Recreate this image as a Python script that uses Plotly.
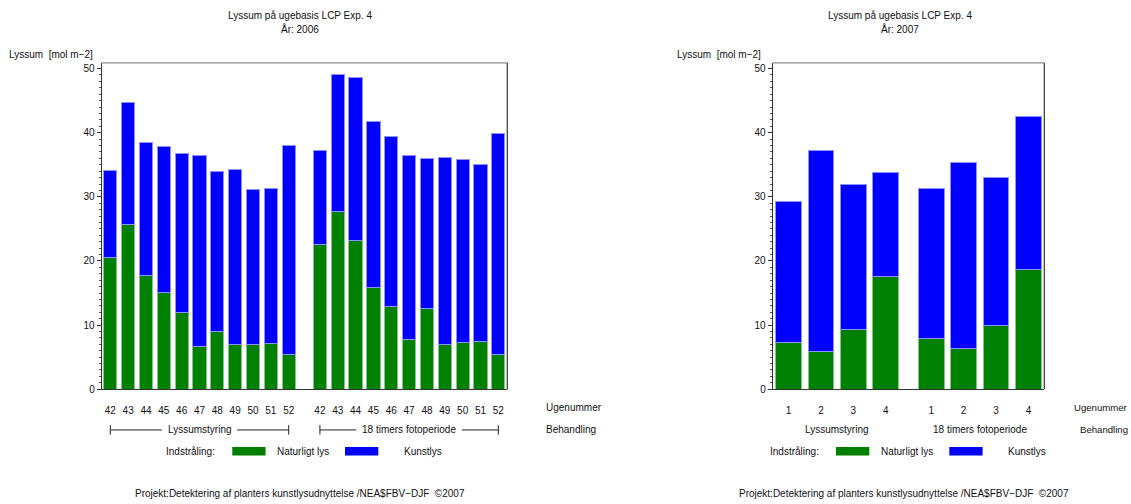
import plotly.graph_objects as go

# ---- data -------------------------------------------------------------
weeks_2006 = ["42", "43", "44", "45", "46", "47", "48", "49", "50", "51", "52"]
natur_2006_lys = [20.6, 25.7, 17.7, 15.1, 12.0, 6.7, 9.0, 7.0, 6.9, 7.2, 5.4]
kunst_2006_lys = [13.5, 19.0, 20.7, 22.8, 24.7, 29.7, 24.9, 27.2, 24.2, 24.1, 32.6]
natur_2006_foto = [22.6, 27.7, 23.2, 15.9, 12.9, 7.8, 12.6, 6.9, 7.3, 7.4, 5.4]
kunst_2006_foto = [14.7, 21.4, 25.4, 25.9, 26.5, 28.7, 23.4, 29.3, 28.5, 27.6, 34.4]

weeks_2007 = ["1", "2", "3", "4"]
natur_2007_lys = [7.3, 5.9, 9.3, 17.6]
kunst_2007_lys = [22.0, 31.4, 22.7, 16.2]
natur_2007_foto = [7.9, 6.4, 10.0, 18.7]
kunst_2007_foto = [23.4, 28.9, 23.0, 23.9]

treatments = ["Lyssumstyring", "18 timers fotoperiode"]
years = ["2006", "2007"]

# ---- canvas helpers ----------------------------------------------------
W, H = 1131, 504
V_SCALE = 0.9863          # vertical layout scale of the page
FONT = "Liberation Sans, Arial, sans-serif"
GREEN, BLUE = "#008000", "#0000ff"
GREEN_EDGE, BLUE_EDGE = "#8cc08c", "#9090ff"


def px(x):
    return x / W


def py(y):
    return max(0.0, 1 - (y / V_SCALE) / H)


# positions: two treatment groups separated by a gap
gap06 = 1.75
x06_a = list(range(len(weeks_2006)))
x06_b = [len(weeks_2006) - 1 + gap06 + i for i in range(len(weeks_2006))]
gap07 = 1.4
x07_a = list(range(len(weeks_2007)))
x07_b = [len(weeks_2007) - 1 + gap07 + i for i in range(len(weeks_2007))]

fig = go.Figure()


def add_stack(xs, nat, kun, xa, ya, width):
    fig.add_trace(go.Bar(x=xs, y=nat, width=width, marker=dict(color=GREEN, line=dict(color=GREEN_EDGE, width=1)),
                         xaxis=xa, yaxis=ya, showlegend=False, hoverinfo="y"))
    fig.add_trace(go.Bar(x=xs, y=kun, width=width, marker=dict(color=BLUE, line=dict(color=BLUE_EDGE, width=1)),
                         xaxis=xa, yaxis=ya, showlegend=False, hoverinfo="y"))


add_stack(x06_a, natur_2006_lys, kunst_2006_lys, "x", "y", 0.74)
add_stack(x06_b, natur_2006_foto, kunst_2006_foto, "x", "y", 0.74)
add_stack(x07_a, natur_2007_lys, kunst_2007_lys, "x2", "y2", 0.8)
add_stack(x07_b, natur_2007_foto, kunst_2007_foto, "x2", "y2", 0.8)

ydom = [py(387.7), py(62.7)]
yaxis_common = dict(
    range=[0, 50.88], domain=ydom, tickvals=[0, 10, 20, 30, 40, 50],
    ticks="outside", ticklen=4, tickcolor="#333", showline=True, linecolor="#333",
    linewidth=1, showgrid=False, zeroline=False,
    tickfont=dict(family=FONT, size=10, color="#111"),
    minor=dict(dtick=1, ticks="outside", ticklen=2, tickcolor="#555"),
)
xaxis_common = dict(
    ticks="", showline=True, linecolor="#333", linewidth=1, showgrid=False,
    zeroline=False, tickfont=dict(family=FONT, size=10, color="#111"),
    ticklabelstandoff=12,
)

fig.update_layout(
    width=W, height=H, margin=dict(l=0, r=0, t=0, b=0),
    paper_bgcolor="white", plot_bgcolor="white", barmode="stack", bargap=0,
    font=dict(family=FONT, size=10, color="#111"),
    xaxis=dict(domain=[px(101.7), px(507.3)], range=[-0.482, 22.254],
               tickvals=x06_a + x06_b, ticktext=weeks_2006 + weeks_2006, anchor="y", **xaxis_common),
    yaxis=dict(anchor="x", **yaxis_common),
    xaxis2=dict(domain=[px(772.7), px(1044.3)], range=[-0.49, 7.89],
                tickvals=x07_a + x07_b, ticktext=weeks_2007 + weeks_2007, anchor="y2", **xaxis_common),
    yaxis2=dict(anchor="x2", **yaxis_common),
)

shapes = []
annotations = []


def text(x, y, s, xanchor="center", xref="paper", size=10):
    annotations.append(dict(x=x, y=py(y), xref=xref, yref="paper", text=s, showarrow=False,
                            xanchor=xanchor, yanchor="middle",
                            font=dict(family=FONT, size=size, color="#111")))


# frame: grey top edge, dark right edge
for xa, ya in (("x", "y"), ("x2", "y2")):
    shapes.append(dict(type="line", xref=f"{xa} domain", yref=f"{ya} domain", x0=0, x1=1, y0=1, y1=1,
                       line=dict(color="#8a8a8a", width=1.2)))
    shapes.append(dict(type="line", xref=f"{xa} domain", yref=f"{ya} domain", x0=1, x1=1, y0=0, y1=1,
                       line=dict(color="#333", width=1.2)))

# titles and axis captions
for cx, yr in ((300, years[0]), (900, years[1])):
    text(px(cx), 15, "Lyssum på ugebasis LCP Exp. 4")
    text(px(cx), 29, f"År: {yr}")
text(px(95), 54.5, "Lyssum  [mol m−2]", xanchor="right")
text(px(763), 54.5, "Lyssum  [mol m−2]", xanchor="right")
text(px(544), 405.7, "Ugenummer", xanchor="left")
text(px(544), 428.3, "Behandling", xanchor="left")
# right-hand captions kept inside the canvas edge
text(px(1130), 405.7, "Ugenummer", xanchor="right", size=9.6)
text(px(1130), 428.3, "Behandling", xanchor="right", size=9.6)

# treatment brackets (2006)
for grp, name, half_gap in ((x06_a, treatments[0], 2.11), (x06_b, treatments[1], 2.96)):
    x0, x1 = grp[0], grp[-1]
    mid = (x0 + x1) / 2
    for a, b in ((x0, mid - half_gap), (mid + half_gap, x1)):
        shapes.append(dict(type="line", xref="x", yref="paper", x0=a, x1=b, y0=py(428.3), y1=py(428.3),
                           line=dict(color="#222", width=1)))
    for xe in (x0, x1):
        shapes.append(dict(type="line", xref="x", yref="paper", x0=xe, x1=xe, y0=py(423.5), y1=py(433),
                           line=dict(color="#222", width=1)))
    text(mid, 428.3, name, xref="x")

# treatment labels (2007)
for grp, name in ((x07_a, treatments[0]), (x07_b, treatments[1])):
    text((grp[0] + grp[-1]) / 2, 428.3, name, xref="x2")

# legend rows
for ind, g0, nat, b0, kun in ((164, 232.3, 275, 345, 402.3), (768.3, 836, 879, 949.3, 1006)):
    text(px(ind), 449.5, "Indstråling:", xanchor="left")
    shapes.append(dict(type="rect", xref="paper", yref="paper", x0=px(g0), x1=px(g0 + 33.3),
                       y0=py(453.7), y1=py(445.3), fillcolor=GREEN, line=dict(width=0)))
    text(px(nat), 449.5, "Naturligt lys", xanchor="left")
    shapes.append(dict(type="rect", xref="paper", yref="paper", x0=px(b0), x1=px(b0 + 33.3),
                       y0=py(453.7), y1=py(445.3), fillcolor=BLUE, line=dict(width=0)))
    text(px(kun), 449.5, "Kunstlys", xanchor="left")

# footnotes (kept just inside the bottom edge)
for cx in (300, 904):
    text(px(cx), 491.5, "Projekt:Detektering af planters kunstlysudnyttelse /NEA$FBV−DJF  ©2007")

fig.update_layout(shapes=shapes, annotations=annotations)
fig.write_html("out.html", config={"staticPlot": True})
